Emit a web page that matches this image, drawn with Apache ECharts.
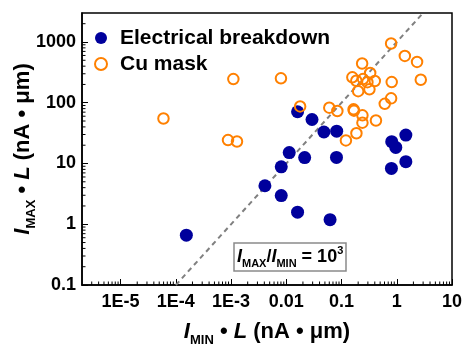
<!DOCTYPE html>
<html>
<head>
<meta charset="utf-8">
<script src="https://cdn.jsdelivr.net/npm/echarts@6/dist/echarts.min.js"></script>
<style>
html,body{margin:0;padding:0;background:#fff;}
#chart{width:463px;height:344px;}
</style>
</head>
<body>
<div id="chart"></div>
<script>
// ---- data ----
const breakdownX = [1.55e-4, 4.1e-3, 8.1e-3, 8.1e-3, 0.0113, 0.016, 0.016, 0.0215, 0.0292, 0.048, 0.062, 0.0817, 0.081, 0.81, 0.96, 0.80, 1.46, 1.46];
const breakdownY = [0.66, 4.3, 8.8, 2.96, 15.1, 1.58, 71, 12.5, 53, 33, 1.19, 34, 12.6, 22.9, 18.4, 8.3, 29.4, 10.7];
const cuMaskX = [5.97e-5, 8.8e-4, 1.28e-3, 1.1e-3, 8.0e-3, 0.0178, 0.060, 0.084, 0.120, 0.165, 0.168, 0.186, 0.239, 0.239, 0.42, 0.606, 0.79, 0.81, 0.79, 1.40, 2.33, 2.72, 0.236, 0.157, 0.185, 0.200, 0.245, 0.294, 0.330, 0.320, 0.400];
const cuMaskY = [55, 24.3, 23, 245, 252, 87, 83, 73, 24, 78, 74, 31.5, 62, 47, 51, 96, 118, 219, 945, 590, 470, 239, 443, 262, 230, 155, 245, 218, 309, 166, 228];
const ratioLineX = [1e-4, 3];
const ratioLineY = [0.1, 3000];
const xTickValues = [1e-5, 1e-4, 1e-3, 0.01, 0.1, 1, 10];
const xTickLabels = ['1E-5', '1E-4', '1E-3', '0.01', '0.1', '1', '10'];
const yTickValues = [0.1, 1, 10, 100, 1000];
const yTickLabels = ['0.1', '1', '10', '100', '1000'];
const xMin = 2e-6, xMax = 10, yMin = 0.1, yMax = 3000;
const seriesNames = ['Electrical breakdown', 'Cu mask'];

// minor tick positions (2..9 × each decade) inside the axis ranges
function minorTicks(lo, hi) {
  const out = [];
  for (let d = Math.floor(Math.log10(lo)); d <= Math.ceil(Math.log10(hi)); d++) {
    for (let k = 2; k <= 9; k++) {
      const v = k * Math.pow(10, d);
      if (v > lo * 1.0001 && v < hi * 0.9999) out.push(v);
    }
  }
  return out;
}
const xMinor = minorTicks(xMin, xMax);
const yMinor = minorTicks(yMin, yMax);

function labelFor(values, labels) {
  return function (v) {
    for (let i = 0; i < values.length; i++) {
      if (Math.abs(Math.log10(v) - Math.log10(values[i])) < 1e-6) return labels[i];
    }
    return '';
  };
}

const FONT = '"Liberation Sans", Arial, sans-serif';
const BLUE = '#00009c';
const ORANGE = '#ff8000';

const nameRich = {
  i: { fontStyle: 'italic', fontWeight: 'bold', fontSize: 22, fontFamily: FONT, color: '#000', lineHeight: 30, verticalAlign: 'middle' },
  s: { fontWeight: 'bold', fontSize: 13, fontFamily: FONT, color: '#000', lineHeight: 30, verticalAlign: 'bottom' },
  n: { fontWeight: 'bold', fontSize: 22, fontFamily: FONT, color: '#000', lineHeight: 30, verticalAlign: 'middle' }
};

const chart = echarts.init(document.getElementById('chart'), null, { renderer: 'canvas' });
chart.setOption({
  animation: false,
  backgroundColor: '#fff',
  textStyle: { fontFamily: FONT },
  grid: {
    left: 82, right: 11, top: 13, bottom: 59,
    show: true, borderColor: '#000', borderWidth: 1.5, backgroundColor: 'transparent',
    containLabel: false, outerBoundsMode: 'none'
  },
  title: {
    left: 234, top: 243,
    borderColor: '#8a8a8a', borderWidth: 1.5, padding: [2, 3, 2, 3],
    text: '{i|I}{s|MAX}{n|/}{i|I}{s|MIN}{n| = 10}{p|3}',
    textStyle: {
      rich: {
        i: { fontStyle: 'italic', fontWeight: 'bold', fontSize: 18, fontFamily: FONT, color: '#000', lineHeight: 24, verticalAlign: 'middle' },
        n: { fontWeight: 'bold', fontSize: 18, fontFamily: FONT, color: '#000', lineHeight: 24, verticalAlign: 'middle' },
        s: { fontWeight: 'bold', fontSize: 11, fontFamily: FONT, color: '#000', lineHeight: 24, verticalAlign: 'bottom' },
        p: { fontWeight: 'bold', fontSize: 11, fontFamily: FONT, color: '#000', lineHeight: 24, verticalAlign: 'top' }
      }
    }
  },
  legend: {
    orient: 'vertical', left: 89, top: 22,
    itemWidth: 28, itemHeight: 12, itemGap: 4,
    textStyle: { fontSize: 21, fontWeight: 'bold', fontFamily: FONT, color: '#000', lineHeight: 22 },
    data: [
      { name: seriesNames[0], icon: 'circle', itemStyle: { color: BLUE, borderWidth: 0 } },
      { name: seriesNames[1], icon: 'circle', itemStyle: { color: 'transparent', borderColor: ORANGE, borderWidth: 2 } }
    ]
  },
  xAxis: {
    type: 'log', logBase: 10, min: xMin, max: xMax,
    name: '{i|I}{s|MIN}{n| • }{i|L}{n| (nA • μm)}',
    nameLocation: 'middle', nameGap: 32, nameMoveOverlap: false,
    nameTextStyle: { rich: nameRich },
    axisLine: { lineStyle: { color: '#000', width: 1.5 } },
    axisTick: { inside: true, length: 6, lineStyle: { color: '#000', width: 1 } },
    minorTick: { show: false },
    splitLine: { show: false },
    axisLabel: {
      margin: 8, fontSize: 18, fontWeight: 'bold', fontFamily: FONT, color: '#000',
      formatter: labelFor(xTickValues, xTickLabels), showMinLabel: false
    }
  },
  yAxis: {
    type: 'log', logBase: 10, min: yMin, max: yMax,
    name: '{i|I}{s|MAX}{n| • }{i|L}{n| (nA • μm)}',
    nameLocation: 'middle', nameGap: 44, nameRotate: 90, nameMoveOverlap: false,
    nameTextStyle: { rich: nameRich },
    axisLine: { lineStyle: { color: '#000', width: 1.5 } },
    axisTick: { inside: true, length: 6, lineStyle: { color: '#000', width: 1 } },
    minorTick: { show: false },
    splitLine: { show: false },
    axisLabel: {
      margin: 6, fontSize: 18, fontWeight: 'bold', fontFamily: FONT, color: '#000',
      formatter: labelFor(yTickValues, yTickLabels), showMaxLabel: false
    }
  },
  series: [
    {
      type: 'custom', silent: true, z: 1,
      data: xMinor.map(v => [v, yMin]),
      renderItem: function (params, api) {
        const p = api.coord([api.value(0), api.value(1)]);
        return { type: 'line', shape: { x1: p[0], y1: p[1], x2: p[0], y2: p[1] - 3.5 }, style: { stroke: '#000', lineWidth: 1 } };
      }
    },
    {
      type: 'custom', silent: true, z: 1,
      data: yMinor.map(v => [xMin, v]),
      renderItem: function (params, api) {
        const p = api.coord([api.value(0), api.value(1)]);
        return { type: 'line', shape: { x1: p[0], y1: p[1], x2: p[0] + 3.5, y2: p[1] }, style: { stroke: '#000', lineWidth: 1 } };
      }
    },
    {
      type: 'line', silent: true, z: 2,
      data: ratioLineX.map((x, i) => [x, ratioLineY[i]]),
      symbol: 'none',
      lineStyle: { color: '#808080', width: 2, type: [5, 4] }
    },
    {
      name: seriesNames[0], type: 'scatter', z: 3,
      symbol: 'circle', symbolSize: 13,
      itemStyle: { color: BLUE, opacity: 1 },
      data: breakdownX.map((x, i) => [x, breakdownY[i]])
    },
    {
      name: seriesNames[1], type: 'scatter', z: 4,
      symbol: 'circle', symbolSize: 10.5,
      itemStyle: { color: 'transparent', borderColor: ORANGE, borderWidth: 2, opacity: 1 },
      data: cuMaskX.map((x, i) => [x, cuMaskY[i]])
    }
  ]
});
</script>
</body>
</html>
